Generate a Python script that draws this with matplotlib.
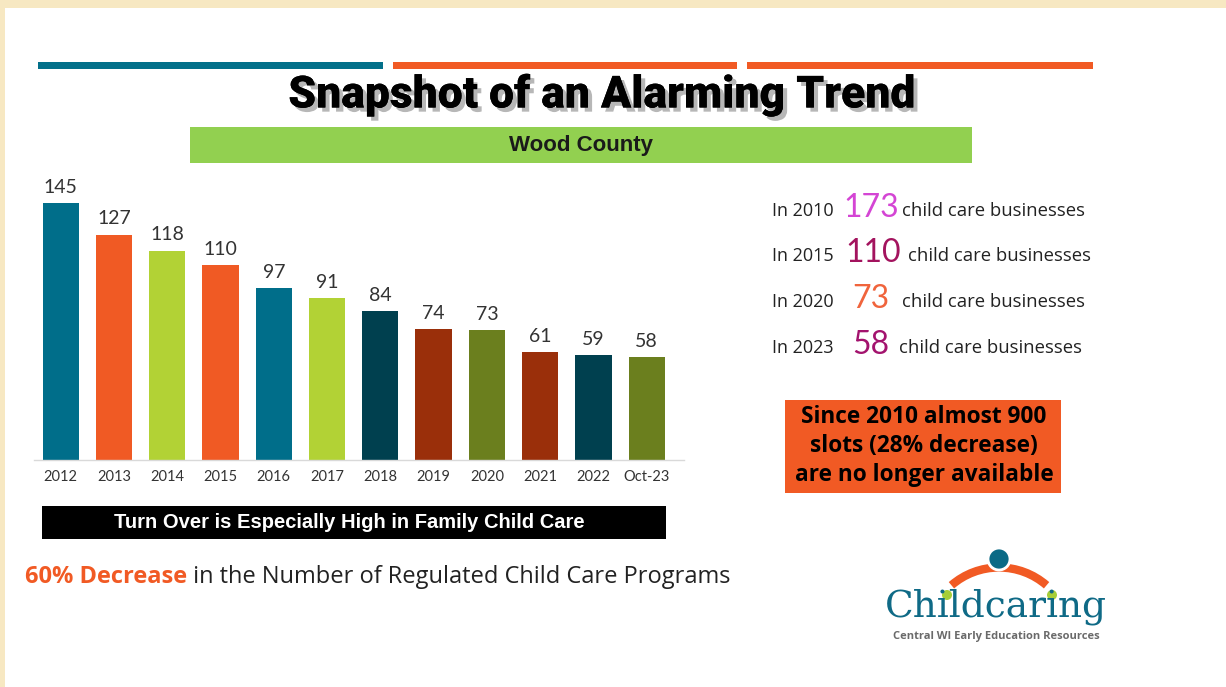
import matplotlib
matplotlib.use("Agg")
import matplotlib.pyplot as plt
import matplotlib.patches as mpatches
import matplotlib.patheffects as pe

# ---------------- data ----------------
categories = ["2012", "2013", "2014", "2015", "2016", "2017", "2018", "2019",
              "2020", "2021", "2022", "Oct-23"]
values = [145, 127, 118, 110, 97, 91, 84, 74, 73, 61, 59, 58]
bar_colors = ["#006E8A", "#F05A24", "#B2D235", "#F05A24", "#006E8A", "#B2D235",
              "#00404F", "#9A2F0A", "#6B7F1E", "#9A2F0A", "#00404F", "#6B7F1E"]

side_years = ["In 2010", "In 2015", "In 2020", "In 2023"]
side_counts = ["173", "110", "73", "58"]
side_colors = ["#D445D4", "#A3135E", "#F0643C", "#A3136E"]

title = "Snapshot of an Alarming Trend"
subtitle = "Wood County"
box_lines = ["Since 2010 almost 900", "slots (28% decrease)", "are no longer available"]
black_banner = "Turn Over is Especially High in Family Child Care"
foot_bold = "60% Decrease"
foot_rest = " in the Number of Regulated Child Care Programs"

W, H = 1226, 687
fig = plt.figure(figsize=(W / 100, H / 100), dpi=100, facecolor="#F7E8C2")

# overlay axes in pixel coordinates
ov = fig.add_axes([0, 0, 1, 1], zorder=0)
ov.set_xlim(0, W)
ov.set_ylim(H, 0)
ov.axis("off")
ov.add_patch(mpatches.Rectangle((5, 8), W - 5, H - 8, facecolor="white", edgecolor="none"))

# top stripes
ov.add_patch(mpatches.Rectangle((38, 62), 345, 7, facecolor="#03708A", edgecolor="none"))
ov.add_patch(mpatches.Rectangle((393, 62), 344, 7, facecolor="#F15A24", edgecolor="none"))
ov.add_patch(mpatches.Rectangle((747, 62), 346, 7, facecolor="#F15A24", edgecolor="none"))

# title with shadow
ov.text(602, 95, title, ha="center", va="center", fontsize=32, fontweight="black",
        family="Roboto", color="black",
        path_effects=[pe.withSimplePatchShadow(offset=(3, -3), shadow_rgbFace="#999999", alpha=0.7),
                      pe.Normal()])

# green subtitle box
ov.add_patch(mpatches.Rectangle((190, 127), 782, 36, facecolor="#92D050", edgecolor="none"))
ov.text(581, 146, subtitle, ha="center", va="center", fontsize=16, fontweight="bold",
        family="Liberation Sans", color="#1a1a1a")

# right side stats
row_y = [211, 256, 302, 348]
num_x = [871, 873, 871, 871]
text_x = [902, 908, 902, 899]
for y, yr, cnt, col, nx, tx in zip(row_y, side_years, side_counts, side_colors, num_x, text_x):
    ov.text(772, y, yr, ha="left", va="center", fontsize=13, family="Open Sans", color="#222222")
    ov.text(nx, y - 3, cnt, ha="center", va="center", fontsize=23, family="Lato", color=col)
    ov.text(tx, y, "child care businesses", ha="left", va="center", fontsize=13.3,
            family="Open Sans", color="#222222")

# orange box
ov.add_patch(mpatches.Rectangle((785, 400), 276, 93, facecolor="#F15A24", edgecolor="none"))
for i, line in enumerate(box_lines):
    ov.text(924, 417 + 29 * i, line, ha="center", va="center", fontsize=16.3,
            fontweight="bold", family="Open Sans", color="black")

# black banner
ov.add_patch(mpatches.Rectangle((42, 506), 624, 33, facecolor="black", edgecolor="none"))
ov.text(349, 523, black_banner, ha="center", va="center", fontsize=14.5, fontweight="bold",
        family="Liberation Sans", color="white")

# footer line
t1 = ov.text(25, 577, foot_bold, ha="left", va="center", fontsize=17, fontweight="bold",
             family="Open Sans", color="#F15A24")
fig.canvas.draw()
bb = t1.get_window_extent()
x_end = bb.x1
ov.annotate(foot_rest, xy=(x_end, (H - 577)), xycoords="figure pixels", ha="left", va="center",
            fontsize=17, family="Open Sans", color="#222222")

# logo
arc = mpatches.Arc((999, 640), 145, 145, theta1=229, theta2=311, lw=6, color="#F15A24")
ov.add_patch(arc)
ov.add_patch(mpatches.Circle((999, 559), 11, facecolor="#0A6A86", edgecolor="white", lw=2, zorder=3))
ov.add_patch(mpatches.Circle((947, 595), 5, facecolor="#A6CE39", edgecolor="none", zorder=3))
ov.add_patch(mpatches.Circle((1052, 595), 5, facecolor="#A6CE39", edgecolor="none", zorder=3))
ov.text(996, 607, "Childcaring", ha="center", va="center", fontsize=27,
        family="DejaVu Serif", color="#0F6A86")
ov.text(996, 637, "Central WI Early Education Resources", ha="center", va="center",
        fontsize=8, fontweight="bold", family="Open Sans", color="#6a6a6a")

# ---------------- bar chart ----------------
ax_left, ax_right, base_y, top_y = 34, 684, 460, 176
ax = fig.add_axes([ax_left / W, (H - base_y) / H, (ax_right - ax_left) / W, (base_y - top_y) / H],
                  zorder=1)
ax.patch.set_alpha(0)
x = range(len(categories))
bars = ax.bar(x, values, width=0.68, color=bar_colors)
ax.set_xlim(-0.5, 11.7)
ax.set_ylim(0, 160)
for xi, v in zip(x, values):
    ax.text(xi, v + 4, str(v), ha="center", va="bottom", fontsize=14, family="Lato", color="#333333")
ax.set_xticks(list(x))
ax.set_xticklabels(categories, fontsize=10.5, family="Lato", color="#333333")
ax.tick_params(axis="x", length=0, pad=7)
ax.set_yticks([])
for s in ["top", "right", "left"]:
    ax.spines[s].set_visible(False)
ax.spines["bottom"].set_color("#D9D9D9")
ax.spines["bottom"].set_linewidth(1)

fig.savefig("out.png", dpi=100, facecolor=fig.get_facecolor())
